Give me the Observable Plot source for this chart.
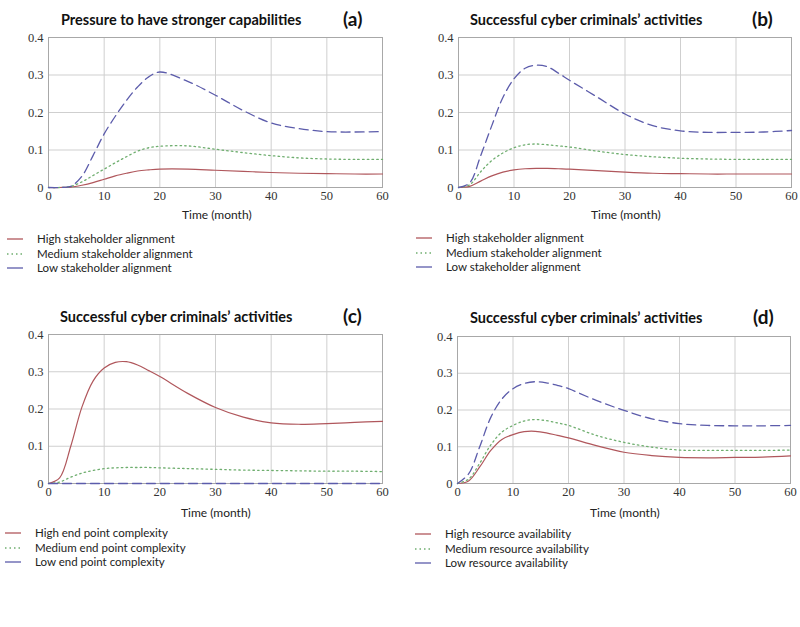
<!DOCTYPE html>
<html>
<head>
<meta charset="utf-8">
<script src="https://cdn.jsdelivr.net/npm/d3@7"></script>
<script src="https://cdn.jsdelivr.net/npm/@observablehq/plot@0.6"></script>
<style>
  html, body { margin: 0; padding: 0; background: #fff; }
  #root { position: relative; width: 800px; height: 627px; overflow: hidden; background: #fff; }
  .abs { position: absolute; }
  #root .chart svg, #root .chart svg text { font-family: "Liberation Serif", "DejaVu Serif", serif !important; }
  .title { font-family: Lato, "Open Sans", sans-serif; font-weight: bold; font-size: 14.5px; color: #111; white-space: nowrap; }
  .tag { font-family: Lato, "Open Sans", sans-serif; font-weight: bold; font-size: 19px; color: #111; }
  .xlabel { font-family: Lato, "Open Sans", sans-serif; font-size: 12px; color: #222; white-space: nowrap; }
  .leg { font-family: Lato, "Open Sans", sans-serif; font-size: 11.5px; color: #222; white-space: nowrap; }
  .leg div { height: 14.5px; line-height: 14.5px; display: flex; align-items: center; }
  .leg svg { margin-right: 14px; }
</style>
</head>
<body>
<div id="root"></div>
<script>
// ---- data ----
const months = [0, 2, 4, 6, 8, 10, 12, 14, 16, 18, 20, 25, 30, 35, 40, 45, 50, 55, 60];

// (a) Pressure to have stronger capabilities
const aHigh   = [0, 0, 0.001, 0.006, 0.013, 0.022, 0.031, 0.038, 0.044, 0.047, 0.049, 0.049, 0.046, 0.043, 0.040, 0.038, 0.037, 0.036, 0.036];
const aMedium = [0, 0, 0.003, 0.015, 0.032, 0.049, 0.066, 0.082, 0.097, 0.106, 0.110, 0.111, 0.102, 0.093, 0.085, 0.079, 0.076, 0.075, 0.075];
const aLow    = [0, 0, 0.003, 0.030, 0.085, 0.143, 0.190, 0.232, 0.268, 0.295, 0.308, 0.283, 0.246, 0.205, 0.172, 0.157, 0.149, 0.148, 0.149];

// (b) Successful cyber criminals' activities (stakeholder alignment)
const bHigh   = [0, 0.003, 0.017, 0.031, 0.041, 0.047, 0.050, 0.051, 0.051, 0.050, 0.049, 0.045, 0.041, 0.038, 0.037, 0.036, 0.036, 0.036, 0.036];
const bMedium = [0, 0.007, 0.042, 0.072, 0.092, 0.106, 0.114, 0.116, 0.114, 0.111, 0.108, 0.097, 0.088, 0.082, 0.078, 0.076, 0.075, 0.075, 0.075];
const bLow    = [0, 0.012, 0.085, 0.165, 0.240, 0.290, 0.318, 0.326, 0.322, 0.305, 0.286, 0.241, 0.196, 0.165, 0.151, 0.147, 0.147, 0.148, 0.152];

// (c) Successful cyber criminals' activities (end point complexity)
const cHigh   = [0, 0.015, 0.100, 0.205, 0.275, 0.310, 0.325, 0.327, 0.318, 0.303, 0.287, 0.242, 0.204, 0.178, 0.163, 0.159, 0.161, 0.164, 0.167];
const cMedium = [0, 0.004, 0.017, 0.028, 0.035, 0.040, 0.042, 0.043, 0.043, 0.043, 0.042, 0.040, 0.038, 0.036, 0.035, 0.034, 0.033, 0.033, 0.032];
const cLow    = [0, 0, 0, 0, 0, 0, 0, 0, 0, 0, 0, 0, 0, 0, 0, 0, 0, 0, 0];

// (d) Successful cyber criminals' activities (resource availability)
const dHigh   = [0, 0.007, 0.045, 0.090, 0.120, 0.133, 0.141, 0.142, 0.138, 0.131, 0.124, 0.103, 0.085, 0.076, 0.071, 0.070, 0.071, 0.072, 0.075];
const dMedium = [0, 0.012, 0.055, 0.105, 0.140, 0.158, 0.170, 0.174, 0.171, 0.165, 0.158, 0.131, 0.112, 0.099, 0.091, 0.090, 0.090, 0.090, 0.091];
const dLow    = [0, 0.026, 0.100, 0.180, 0.230, 0.258, 0.272, 0.277, 0.274, 0.267, 0.258, 0.226, 0.199, 0.176, 0.163, 0.158, 0.157, 0.157, 0.158];

const xTicks = [0, 10, 20, 30, 40, 50, 60];
const yTicks = [0, 0.1, 0.2, 0.3, 0.4];
const xLabel = "Time (month)";

const titles = [
  "Pressure to have stronger capabilities",
  "Successful cyber criminals\u2019 activities",
  "Successful cyber criminals\u2019 activities",
  "Successful cyber criminals\u2019 activities"
];
const tags = ["(a)", "(b)", "(c)", "(d)"];
const legends = [
  ["High stakeholder alignment", "Medium stakeholder alignment", "Low stakeholder alignment"],
  ["High stakeholder alignment", "Medium stakeholder alignment", "Low stakeholder alignment"],
  ["High end point complexity", "Medium end point complexity", "Low end point complexity"],
  ["High resource availability", "Medium resource availability", "Low resource availability"]
];

// ---- styling / layout ----
const RED = "#b0575c", GREEN = "#6fae6f", BLUE = "#5c5cab";
const seriesStyle = [
  {stroke: RED, dash: null, width: 1.2},
  {stroke: GREEN, dash: "1.5,3.2", width: 1.3},
  {stroke: BLUE, dash: "9,5", width: 1.3}
];
const SERIF = "Liberation Serif";

const panels = [
  {series: [aHigh, aMedium, aLow], left: 0,   top: 27,  ml: 48, mr: 18, ph: 150,
   titleX: 61, titleY: 11, tagX: 343, tagY: 7, xlabX: 182, xlabY: 207, legX: 7, legY: 232},
  {series: [bHigh, bMedium, bLow], left: 400, top: 27,  ml: 58, mr: 9,  ph: 150,
   titleX: 470, titleY: 11, tagX: 752, tagY: 7, xlabX: 591, xlabY: 207, legX: 416, legY: 231},
  {series: [cHigh, cMedium, cLow], left: 0,   top: 324, ml: 48, mr: 18, ph: 149,
   titleX: 60, titleY: 308, tagX: 343, tagY: 304, xlabX: 181, xlabY: 505, legX: 5, legY: 526},
  {series: [dHigh, dMedium, dLow], left: 400, top: 326, ml: 57, mr: 10, ph: 147,
   titleX: 470, titleY: 309, tagX: 753, tagY: 305, xlabX: 590, xlabY: 505, legX: 415, legY: 527}
];

const root = document.getElementById("root");

function addDiv(cls, x, y, html) {
  const d = document.createElement("div");
  d.className = "abs " + cls;
  d.style.left = x + "px";
  d.style.top = y + "px";
  d.innerHTML = html;
  root.appendChild(d);
  return d;
}

panels.forEach((p, i) => {
  const rows = [];
  p.series.forEach((vals, s) => {
    months.forEach((m, k) => rows.push({month: m, value: vals[k], s}));
  });
  const mt = 10, mb = 20;
  const chart = Plot.plot({
    width: 400,
    height: p.ph + mt + mb,
    marginLeft: p.ml, marginRight: p.mr, marginTop: mt, marginBottom: mb,
    style: {fontFamily: SERIF, fontSize: "12.5px", color: "#333", background: "transparent", overflow: "visible"},
    x: {domain: [0, 60]},
    y: {domain: [0, 0.4]},
    marks: [
      Plot.gridX(xTicks, {stroke: "#cfcfcf", strokeOpacity: 1}),
      Plot.gridY(yTicks, {stroke: "#cfcfcf", strokeOpacity: 1}),
      Plot.frame({stroke: "#a8a8a8"}),
      Plot.axisX(xTicks, {tickSize: 0, tickPadding: 4, label: null, fontFamily: SERIF, fontSize: 12.5, fill: "#333",
        tickFormat: d => String(d)}),
      Plot.axisY(yTicks, {tickSize: 0, tickPadding: 5, label: null, fontFamily: SERIF, fontSize: 12.5, fill: "#333",
        tickFormat: d => d === 0 ? "0" : d3.format(".1f")(d)}),
      ...[0, 1, 2].map(s => Plot.line(rows.filter(r => r.s === s), {
        x: "month", y: "value", curve: "catmull-rom",
        stroke: seriesStyle[s].stroke, strokeWidth: seriesStyle[s].width,
        strokeDasharray: seriesStyle[s].dash
      }))
    ]
  });
  const wrap = document.createElement("div");
  wrap.className = "abs chart";
  wrap.style.left = p.left + "px";
  wrap.style.top = p.top + "px";
  wrap.appendChild(chart);
  root.appendChild(wrap);

  addDiv("title", p.titleX, p.titleY, titles[i]);
  addDiv("tag", p.tagX, p.tagY, tags[i]);
  addDiv("xlabel", p.xlabX, p.xlabY, xLabel);

  const legHtml = legends[i].map((t, s) => {
    const st = seriesStyle[s];
    const dash = s === 1 ? ' stroke-dasharray="1.5,3"' : '';
    return `<div><svg width="16" height="4"><line x1="0" y1="2" x2="16" y2="2" stroke="${st.stroke}" stroke-width="1.3"${dash}/></svg><span>${t}</span></div>`;
  }).join("");
  addDiv("leg", p.legX, p.legY, legHtml);
});
</script>
</body>
</html>
